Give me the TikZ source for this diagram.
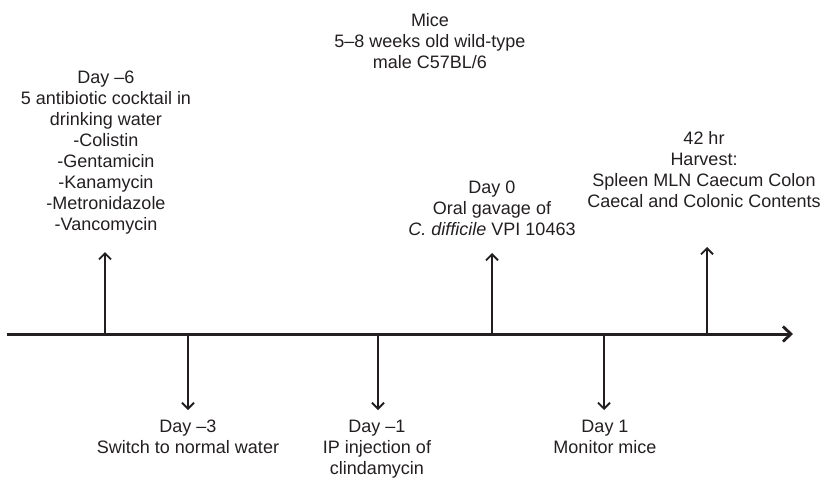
\documentclass[tikz,border=0pt]{standalone}
\usepackage{fontspec}
\setmainfont{Liberation Sans}
\usetikzlibrary{arrows.meta}
\definecolor{ink}{HTML}{231F20}
\begin{document}
\begin{tikzpicture}[x=1pt,y=-1pt,
  lbl/.style={align=center,anchor=north,inner sep=0pt,text=ink,
    font=\fontsize{18}{21}\selectfont},
  axisline/.style={draw=ink,line width=3pt,-{Straight Barb[length=8pt,width=15pt,line width=2.8pt]}},
  evarrow/.style={draw=ink,line width=1.8pt,-{Straight Barb[length=6pt,width=12pt,line width=1.9pt]}}]
\useasboundingbox (0,0) rectangle (824,477);
% timeline
\coordinate (tstart) at (7,334);
\coordinate (tend) at (793,334);
\draw[axisline] (tstart) -- (tend);
% event points on timeline
\coordinate (p6) at (105,334);
\coordinate (p3) at (188,334);
\coordinate (p1) at (378,334);
\coordinate (p0) at (492,334);
\coordinate (pd1) at (604,334);
\coordinate (p42) at (707,334);
% arrow tips
\coordinate (a6) at (105,252);
\coordinate (a3) at (188,410);
\coordinate (a1) at (378,410);
\coordinate (a0) at (492,253);
\coordinate (ad1) at (604,410);
\coordinate (a42) at (707,247);
\draw[evarrow] (p6) -- (a6);
\draw[evarrow] (p3) -- (a3);
\draw[evarrow] (p1) -- (a1);
\draw[evarrow] (p0) -- (a0);
\draw[evarrow] (pd1) -- (ad1);
\draw[evarrow] (p42) -- (a42);
% labels
\node[lbl] (mice) at (430,13) {Mice\\5–8 weeks old wild-type\\male C57BL/6};
\node[lbl] (lab6) at (106,71) {Day –6\\5 antibiotic cocktail in\\drinking water\\-Colistin\\-Gentamicin\\-Kanamycin\\-Metronidazole\\-Vancomycin};
\node[lbl] (lab0) at (492,181) {Day 0\\Oral gavage of\\\textit{C. difficile} VPI 10463};
\node[lbl] (lab42) at (704,131) {42 hr\\Harvest:\\Spleen MLN Caecum Colon\\Caecal and Colonic Contents};
\node[lbl] (lab3) at (188,420) {Day –3\\Switch to normal water};
\node[lbl] (lab1) at (377,420) {Day –1\\IP injection of\\clindamycin};
\node[lbl] (labd1) at (605,420) {Day 1\\Monitor mice};
\end{tikzpicture}
\end{document}
